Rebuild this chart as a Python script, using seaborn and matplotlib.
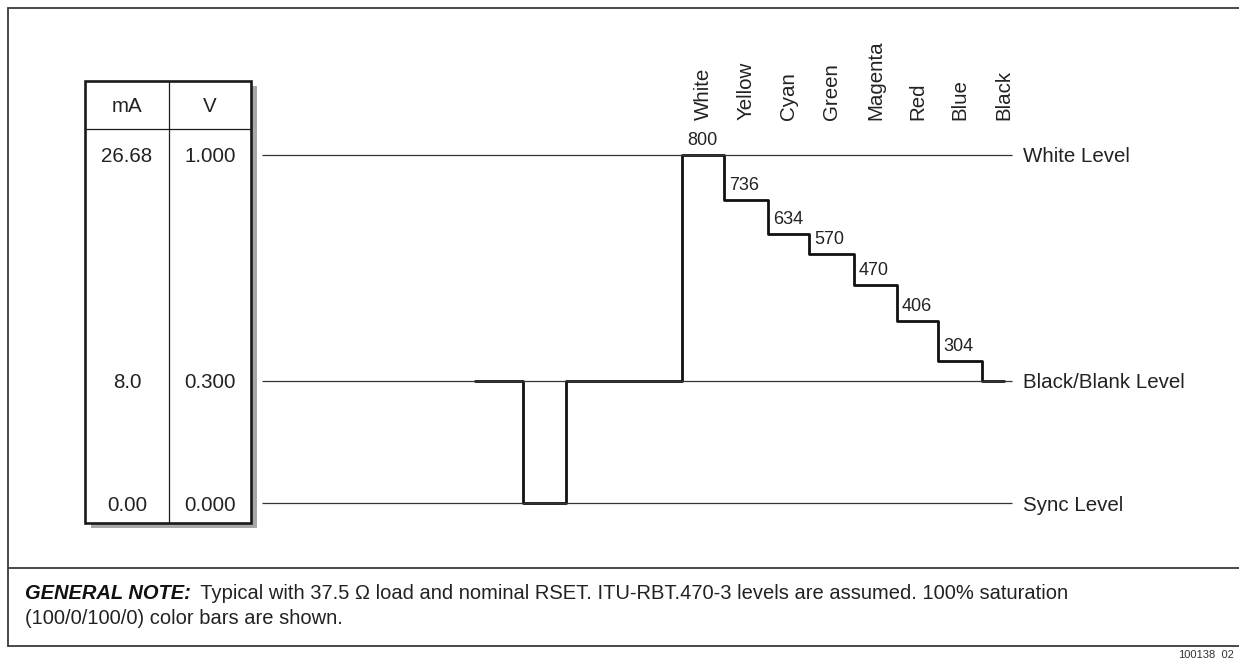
import seaborn as sns
import pandas as pd
import matplotlib.pyplot as plt
from matplotlib.patches import Rectangle

# color bar names and their DAC codes
bar_names = ['White', 'Yellow', 'Cyan', 'Green', 'Magenta', 'Red', 'Blue', 'Black']
bar_codes = [800, 736, 634, 570, 470, 406, 304]

# waveform: segment start times and the level held from there (drawing units, sync = 0, white = 1)
wave_t = [475, 523, 566, 682, 724, 768, 809, 854, 897, 938, 982, 1004]
wave_level = [0.351, 0.0, 0.351, 1.0, 0.871, 0.773, 0.716, 0.626, 0.523, 0.408, 0.351, 0.351]

# reference levels
ref_names = ['White Level', 'Black/Blank Level', 'Sync Level']
ref_levels = [1.0, 0.351, 0.0]
ref_start, ref_end = 262, 1012

# table on the left
table_ma = ['26.68', '8.0', '0.00']
table_v = ['1.000', '0.300', '0.000']

note_bold = 'GENERAL NOTE:'
note_text = ' Typical with 37.5 \u03a9 load and nominal RSET. ITU-RBT.470-3 levels are assumed. 100% saturation'
note_text2 = '(100/0/100/0) color bars are shown.'
fig_id = '100138_02'

sns.set_theme(style='white')
plt.rcParams['font.family'] = ['Liberation Sans', 'DejaVu Sans']

W, H = 1239, 658
fig = plt.figure(figsize=(W / 100, H / 100), dpi=100)

# pixel-space axes for the frame, table and note
ax = fig.add_axes([0, 0, 1, 1])
ax.set_xlim(0, W)
ax.set_ylim(H, 0)
ax.axis('off')

# waveform axes in level units
wv = fig.add_axes([0, 0, 1, 1])
wv.patch.set_alpha(0)

# outer frame
fc = '#3a3a3a'
ax.plot([8, W], [8, 8], color=fc, lw=1.3)
ax.plot([8, 8], [8, 646], color=fc, lw=1.3)
ax.plot([8, W], [568, 568], color=fc, lw=1.3)
ax.plot([8, W], [646, 646], color=fc, lw=1.3)

# table with shadow
fs = 14.8
ax.add_patch(Rectangle((91, 86), 166, 442, facecolor='#a8a8aa', edgecolor='none', zorder=1))
ax.add_patch(Rectangle((85, 81), 166, 442, facecolor='white', edgecolor='#1a1a1a', lw=1.9, zorder=2))
ax.plot([169, 169], [81, 523], color='#1a1a1a', lw=0.9, zorder=3)
ax.plot([85, 251], [129, 129], color='#1a1a1a', lw=0.9, zorder=3)
ax.text(127, 104, 'mA', ha='center', va='center_baseline', fontsize=fs, color='#222', zorder=4)
ax.text(210, 104, 'V', ha='center', va='center_baseline', fontsize=fs, color='#222', zorder=4)

# waveform
df = pd.DataFrame({'t': wave_t, 'level': wave_level})
sns.lineplot(data=df, x='t', y='level', ax=wv, estimator=None, sort=False,
             drawstyle='steps-post', color='#111', lw=2.0)
wv.set_xlim(0, W)
wv.set_ylim(-0.4454, 1.4454)
wv.axis('off')

for ma, v, lvl in zip(table_ma, table_v, ref_levels):
    wv.text(127, lvl, ma, ha='center', va='center_baseline', fontsize=fs, color='#222', zorder=4)
    wv.text(210, lvl, v, ha='center', va='center_baseline', fontsize=fs, color='#222', zorder=4)

# reference lines and their labels
wv.hlines(ref_levels, ref_start, ref_end, color='#333', lw=0.9)
for name, lvl in zip(ref_names, ref_levels):
    wv.text(1023, lvl, name, ha='left', va='center_baseline', fontsize=fs, color='#222')

# code values above each step
bar_t = wave_t[3:]
bar_lv = wave_level[3:]
for code, t, lvl in zip(bar_codes, bar_t, bar_lv):
    wv.annotate(str(code), (t, lvl), xytext=(3.6, 4.5), textcoords='offset points',
                ha='left', va='bottom', fontsize=13, color='#222')

# color names, rotated, over each bar
for i, name in enumerate(bar_names):
    mid = (bar_t[i] + bar_t[i + 1]) / 2
    dx = 8 if name == 'Black' else 0
    ax.annotate(name, (mid, 120), xytext=(dx, 0), textcoords='offset points',
                rotation=90, ha='center', va='bottom', fontsize=fs, color='#222')

# general note
t1 = ax.text(25, 599, note_bold, ha='left', va='baseline', fontsize=14.5,
             fontweight='bold', fontstyle='italic', color='#111')
fig.canvas.draw()
bb = t1.get_window_extent().transformed(ax.transData.inverted())
ax.text(bb.x1 + 4, 599, note_text, ha='left', va='baseline', fontsize=14.5, color='#222')
ax.text(25, 624, note_text2, ha='left', va='baseline', fontsize=14.5, color='#222')
ax.text(1178, 649, fig_id, ha='left', va='top', fontsize=8, color='#333')

fig.savefig('out.png', dpi=100)
